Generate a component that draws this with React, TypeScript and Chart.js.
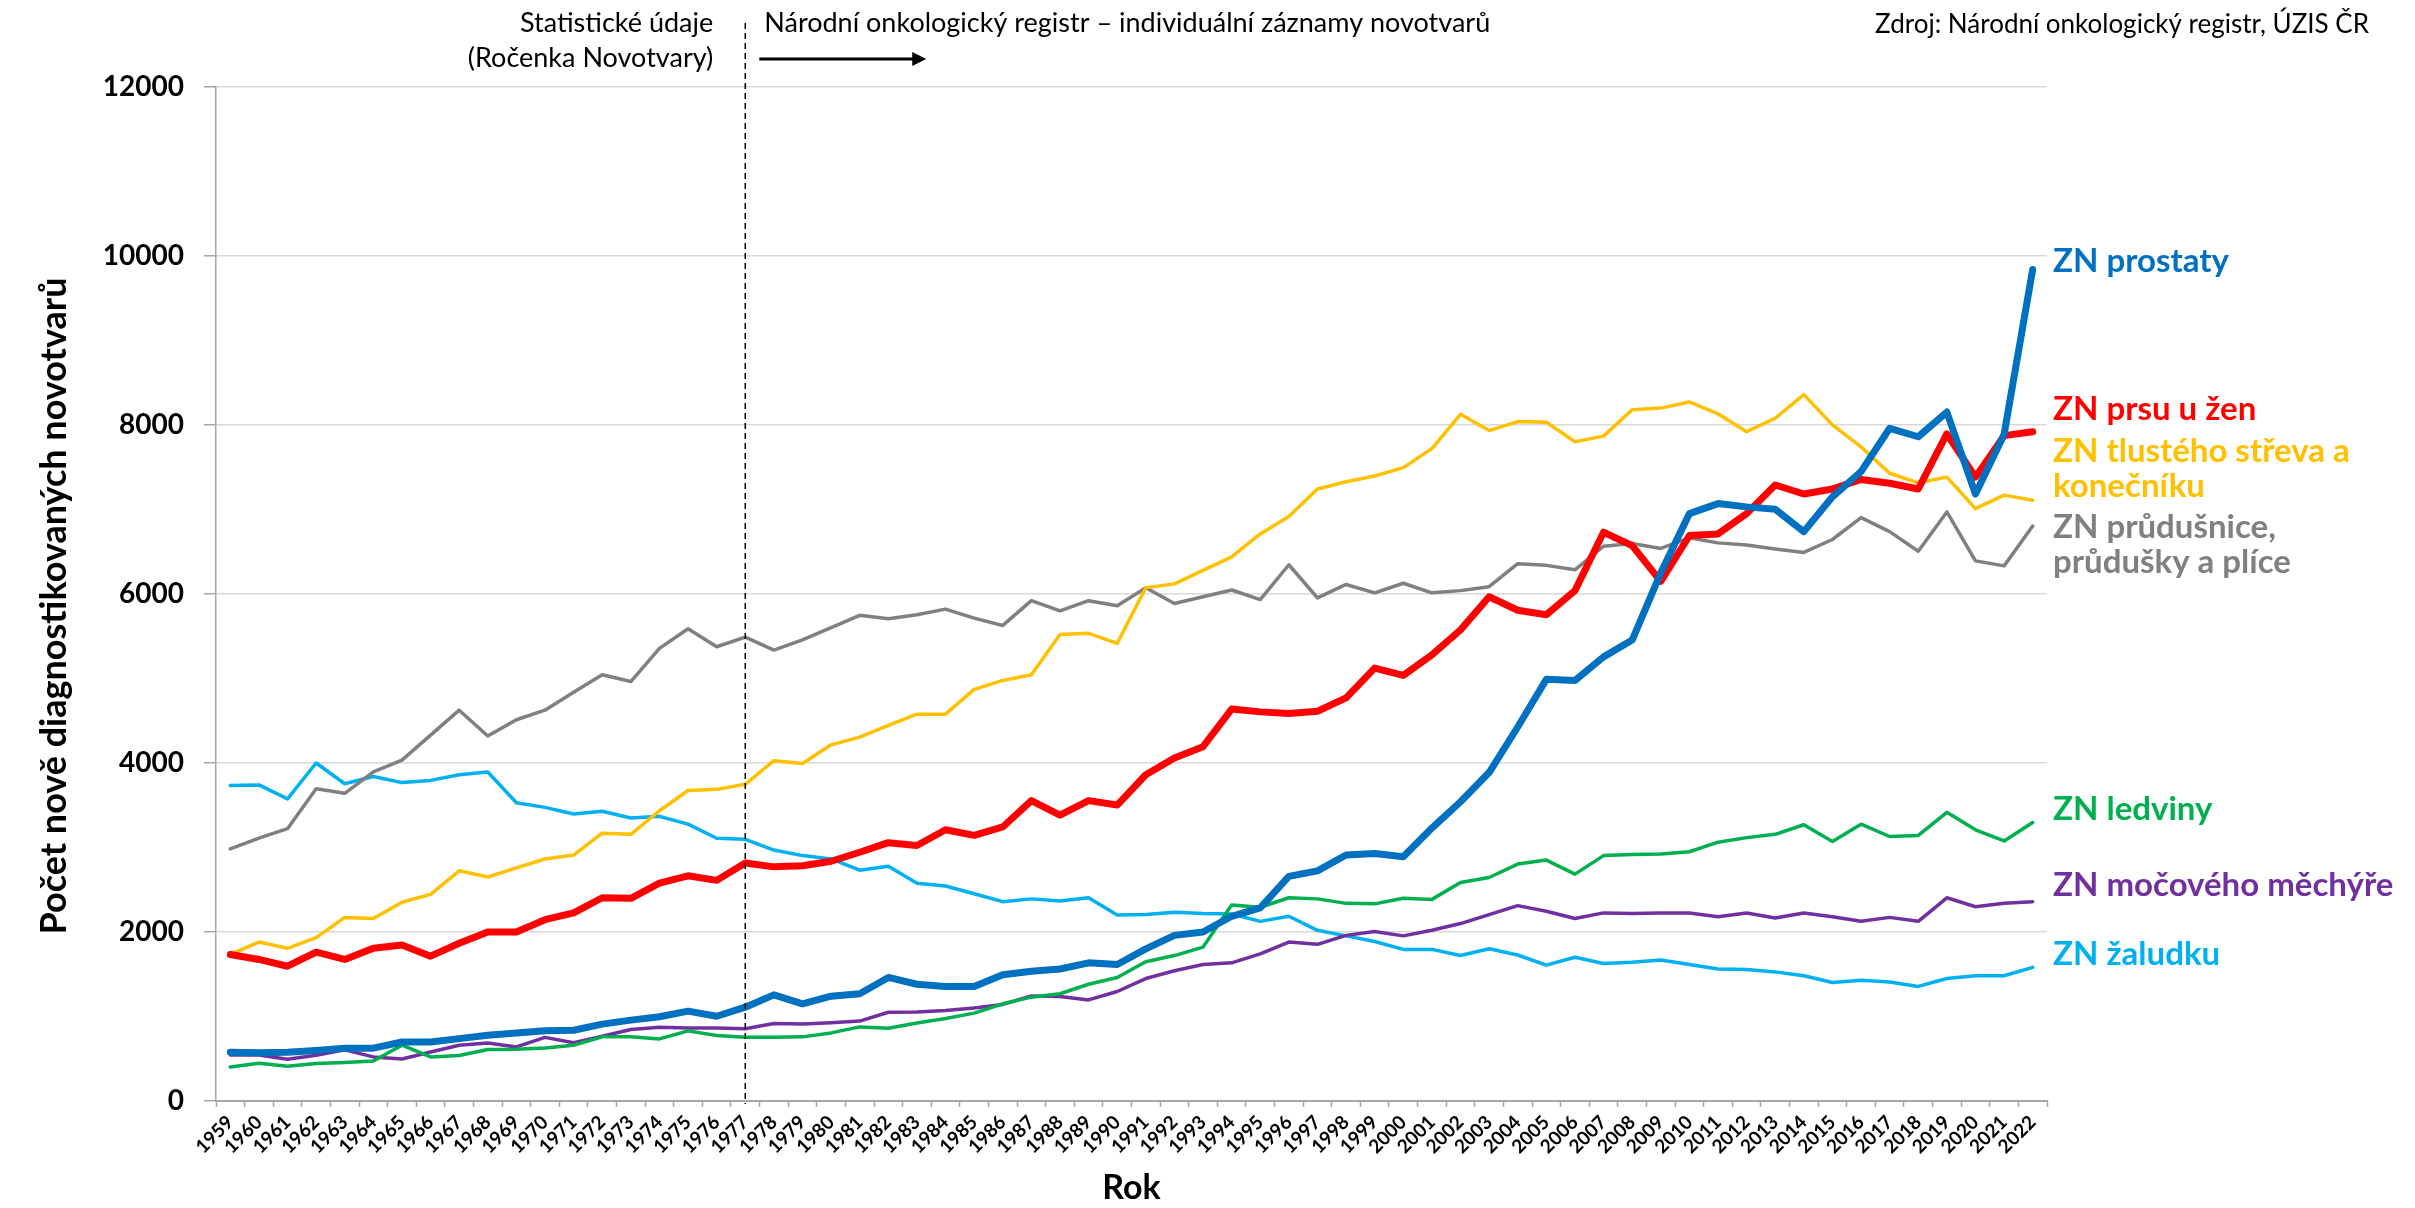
import { useEffect, useRef } from 'react';
import { Chart, registerables } from 'chart.js';

Chart.register(...registerables);

// ---------- DATA ----------
const years = [
  '1959', '1960', '1961', '1962', '1963', '1964', '1965', '1966', '1967', '1968',
  '1969', '1970', '1971', '1972', '1973', '1974', '1975', '1976', '1977', '1978',
  '1979', '1980', '1981', '1982', '1983', '1984', '1985', '1986', '1987', '1988',
  '1989', '1990', '1991', '1992', '1993', '1994', '1995', '1996', '1997', '1998',
  '1999', '2000', '2001', '2002', '2003', '2004', '2005', '2006', '2007', '2008',
  '2009', '2010', '2011', '2012', '2013', '2014', '2015', '2016', '2017', '2018',
  '2019', '2020', '2021', '2022',
];

const prostate = [
  578, 571, 578, 598, 625, 625, 698, 698, 738, 777,
  804, 831, 837, 910, 957, 997, 1063, 1003, 1110, 1256,
  1150, 1240, 1269, 1462, 1382, 1356, 1356, 1495, 1535, 1562,
  1635, 1615, 1801, 1960, 2000, 2186, 2286, 2658, 2724, 2911,
  2930, 2891, 3230, 3542, 3887, 4426, 4990, 4977, 5256, 5455,
  6250, 6951, 7070, 7031, 7004, 6738, 7150, 7449, 7961, 7861,
  8153, 7183, 7888, 9841,
];

const breast = [
  1734, 1675, 1595, 1761, 1675, 1807, 1847, 1714, 1867, 2000,
  2000, 2146, 2226, 2405, 2399, 2578, 2665, 2611, 2817, 2771,
  2784, 2837, 2944, 3057, 3023, 3210, 3143, 3243, 3555, 3382,
  3555, 3502, 3861, 4060, 4193, 4638, 4605, 4585, 4612, 4771,
  5123, 5037, 5280, 5575, 5967, 5808, 5755, 6040, 6731, 6572,
  6150, 6692, 6711, 6951, 7290, 7183, 7243, 7356, 7310, 7243,
  7894, 7383, 7874, 7921,
];

const colorectal = [
  1734, 1881, 1807, 1934, 2173, 2160, 2352, 2445, 2724, 2651,
  2758, 2864, 2911, 3170, 3156, 3435, 3675, 3688, 3748, 4027,
  3994, 4215, 4306, 4446, 4578, 4578, 4871, 4977, 5044, 5522,
  5535, 5416, 6074, 6120, 6280, 6439, 6711, 6917, 7243, 7329,
  7396, 7496, 7720, 8127, 7934, 8040, 8034, 7801, 7868, 8180,
  8200, 8273, 8133, 7921, 8080, 8359, 8001, 7741, 7429, 7316,
  7383, 7010, 7170, 7110,
];

const lung = [
  2984, 3110, 3223, 3695, 3641, 3894, 4034, 4330, 4625, 4319,
  4512, 4625, 4838, 5044, 4964, 5356, 5588, 5376, 5489, 5336,
  5456, 5602, 5748, 5708, 5755, 5821, 5715, 5628, 5921, 5801,
  5921, 5861, 6074, 5887, 5967, 6047, 5934, 6346, 5954, 6113,
  6014, 6127, 6014, 6040, 6087, 6359, 6339, 6286, 6565, 6598,
  6539, 6665, 6605, 6579, 6532, 6492, 6645, 6904, 6738, 6506,
  6971, 6392, 6333, 6805,
];

const kidney = [
  403, 447, 411, 443, 455, 474, 660, 522, 538, 609,
  613, 628, 660, 759, 759, 735, 830, 775, 755, 755,
  759, 806, 877, 860, 924, 977, 1040, 1150, 1229, 1269,
  1382, 1462, 1648, 1721, 1821, 2319, 2293, 2405, 2392, 2339,
  2333, 2399, 2386, 2585, 2645, 2804, 2851, 2685, 2904, 2917,
  2924, 2950, 3063, 3117, 3156, 3269, 3070, 3276, 3130, 3143,
  3416, 3210, 3077, 3296,
];

const bladder = [
  545, 545, 494, 541, 605, 522, 497, 580, 660, 686,
  640, 753, 690, 766, 846, 872, 863, 863, 856, 917,
  910, 926, 946, 1050, 1052, 1072, 1100, 1143, 1243, 1236,
  1196, 1296, 1449, 1542, 1615, 1635, 1741, 1881, 1854, 1960,
  2007, 1954, 2020, 2100, 2206, 2312, 2246, 2160, 2226, 2219,
  2226, 2226, 2180, 2226, 2166, 2226, 2180, 2126, 2173, 2126,
  2405, 2299, 2339, 2359,
];

const stomach = [
  3735, 3741, 3575, 4000, 3754, 3841, 3768, 3794, 3861, 3894,
  3529, 3475, 3396, 3429, 3349, 3369, 3276, 3110, 3097, 2970,
  2904, 2864, 2731, 2778, 2578, 2545, 2452, 2359, 2392, 2366,
  2405, 2200, 2206, 2233, 2219, 2213, 2126, 2186, 2020, 1954,
  1887, 1794, 1794, 1721, 1801, 1728, 1608, 1701, 1628, 1641,
  1668, 1615, 1562, 1555, 1528, 1482, 1402, 1429, 1409, 1356,
  1449, 1482, 1482, 1582,
];

const yTicks = [0, 2000, 4000, 6000, 8000, 10000, 12000];
const yTickLabels = ['0', '2000', '4000', '6000', '8000', '10000', '12000'];

const dividerYear = '1977';
const leftNote = ['Statistické údaje', '(Ročenka Novotvary)'];
const rightNote = 'Národní onkologický registr – individuální záznamy novotvarů';
const sourceNote = 'Zdroj: Národní onkologický registr, ÚZIS ČR';
const yTitle = 'Počet nově diagnostikovaných novotvarů';
const xTitle = 'Rok';

const labelProstate = ['ZN prostaty'];
const labelBreast = ['ZN prsu u žen'];
const labelColorectal = ['ZN tlustého střeva a', 'konečníku'];
const labelLung = ['ZN průdušnice,', 'průdušky a plíce'];
const labelKidney = ['ZN ledviny'];
const labelBladder = ['ZN močového měchýře'];
const labelStomach = ['ZN žaludku'];

// ---------- STYLE ----------
const C_PROSTATE = '#0070C0';
const C_BREAST = '#FF0000';
const C_COLORECTAL = '#FFC000';
const C_LUNG = '#808080';
const C_KIDNEY = '#00B050';
const C_BLADDER = '#7030A0';
const C_STOMACH = '#00B0F0';

const FONT = 'Lato, "Open Sans", sans-serif';

// label layout: [lines, color, first baseline y]
const seriesLabels: [string[], string, number][] = [
  [labelProstate, C_PROSTATE, 272],
  [labelBreast, C_BREAST, 420],
  [labelColorectal, C_COLORECTAL, 462],
  [labelLung, C_LUNG, 538],
  [labelKidney, C_KIDNEY, 820],
  [labelBladder, C_BLADDER, 896],
  [labelStomach, C_STOMACH, 965],
];

const annotationPlugin = {
  id: 'annotations',
  afterDatasetsDraw(chart: any) {
    const ctx = chart.ctx as CanvasRenderingContext2D;
    const area = chart.chartArea;
    const xs = chart.scales.x;
    const xDiv = xs.getPixelForValue(years.indexOf(dividerYear));
    ctx.save();
    // dashed divider
    ctx.strokeStyle = '#000000';
    ctx.lineWidth = 1.5;
    ctx.setLineDash([6, 4]);
    ctx.beginPath();
    ctx.moveTo(xDiv, 23);
    ctx.lineTo(xDiv, area.bottom + 3);
    ctx.stroke();
    ctx.setLineDash([]);

    // arrow
    const ay = 59;
    const ax0 = xDiv + 14;
    const ax1 = xDiv + 181;
    ctx.lineWidth = 3;
    ctx.beginPath();
    ctx.moveTo(ax0, ay);
    ctx.lineTo(ax1 - 12, ay);
    ctx.stroke();
    ctx.fillStyle = '#000000';
    ctx.beginPath();
    ctx.moveTo(ax1, ay);
    ctx.lineTo(ax1 - 14, ay - 7);
    ctx.lineTo(ax1 - 14, ay + 7);
    ctx.closePath();
    ctx.fill();

    // top notes
    ctx.font = `27px ${FONT}`;
    ctx.fillStyle = '#000000';
    ctx.textBaseline = 'alphabetic';
    ctx.textAlign = 'right';
    ctx.fillText(leftNote[0], xDiv - 32, 32);
    ctx.fillText(leftNote[1], xDiv - 32, 67);
    ctx.textAlign = 'left';
    ctx.fillText(rightNote, xDiv + 19, 32);
    ctx.font = `26px ${FONT}`;
    ctx.textAlign = 'right';
    ctx.fillText(sourceNote, 2369, 33);

    // y-axis title
    ctx.save();
    ctx.translate(54, (area.top + area.bottom) / 2 + 12);
    ctx.rotate(-Math.PI / 2);
    ctx.font = `bold 36px ${FONT}`;
    ctx.textAlign = 'center';
    ctx.textBaseline = 'middle';
    ctx.fillStyle = '#000000';
    ctx.fillText(yTitle, 0, 0);
    ctx.restore();

    // series labels
    ctx.font = `bold 33px ${FONT}`;
    ctx.textAlign = 'left';
    ctx.textBaseline = 'alphabetic';
    const lx = area.right + 6;
    for (const [lines, color, y0] of seriesLabels) {
      ctx.fillStyle = color;
      lines.forEach((t, i) => ctx.fillText(t, lx, y0 + i * 35));
    }
    ctx.restore();
  },
};

export default function App() {
  const canvasRef = useRef<HTMLCanvasElement | null>(null);

  useEffect(() => {
    document.body.style.margin = '0';
    const canvas = canvasRef.current;
    if (!canvas) return;
    let chart: Chart | null = null;

    const mk = (label: string, data: number[], color: string, width: number) => ({
      label,
      data,
      borderColor: color,
      backgroundColor: color,
      borderWidth: width,
      pointRadius: 0,
      pointHoverRadius: 0,
      tension: 0,
      fill: false,
      borderJoinStyle: 'round' as const,
      borderCapStyle: 'round' as const,
    });

    chart = new Chart(canvas, {
      type: 'line',
      data: {
        labels: years,
        datasets: [
          mk(labelProstate.join(' '), prostate, C_PROSTATE, 7),
          mk(labelBreast.join(' '), breast, C_BREAST, 7),
          mk(labelColorectal.join(' '), colorectal, C_COLORECTAL, 3.5),
          mk(labelLung.join(' '), lung, C_LUNG, 3.5),
          mk(labelKidney.join(' '), kidney, C_KIDNEY, 3.5),
          mk(labelBladder.join(' '), bladder, C_BLADDER, 3.5),
          mk(labelStomach.join(' '), stomach, C_STOMACH, 3.5),
        ],
      },
      options: {
        responsive: false,
        animation: false,
        events: [],
        layout: { padding: { left: 0, top: 87, right: 368, bottom: 0 } },
        plugins: {
          legend: { display: false },
          tooltip: { enabled: false },
          title: { display: false },
        },
        scales: {
          x: {
            type: 'category',
            offset: true,
            afterFit: (s: any) => { s.height = 107; },
            grid: {
              display: true,
              offset: true,
              drawOnChartArea: false,
              drawTicks: true,
              tickLength: 6,
              tickColor: '#A6A6A6',
              tickWidth: 1.5,
            },
            border: { display: true, color: '#A6A6A6', width: 2 },
            ticks: {
              autoSkip: false,
              minRotation: 45,
              maxRotation: 45,
              padding: 4,
              color: '#000000',
              font: { family: FONT, size: 19, weight: 'bold' },
            },
            title: {
              display: true,
              text: xTitle,
              color: '#000000',
              font: { family: FONT, size: 34, weight: 'bold' },
              padding: { top: 0, bottom: 0 },
            },
          },
          y: {
            min: 0,
            max: 12000,
            afterFit: (s: any) => { s.width = 216; },
            afterBuildTicks: (s: any) => { s.ticks = yTicks.map((v) => ({ value: v })); },
            grid: {
              color: '#D9D9D9',
              lineWidth: 1.5,
              drawTicks: true,
              tickLength: 12,
              tickColor: '#A6A6A6',
            },
            border: { display: true, color: '#A6A6A6', width: 1.5 },
            ticks: {
              padding: 20,
              color: '#000000',
              font: { family: FONT, size: 28, weight: 'bold' },
              callback: (v: any) => {
                const i = yTicks.indexOf(Number(v));
                return i >= 0 ? yTickLabels[i] : String(v);
              },
            },
            title: { display: false },
          },
        },
      },
      plugins: [annotationPlugin],
    });

    return () => {
      if (chart) chart.destroy();
    };
  }, []);

  return (
    <div style={{ position: 'fixed', left: 0, top: 0, width: 2415, height: 1208, background: '#ffffff' }}>
      <canvas ref={canvasRef} width={2415} height={1208} style={{ width: 2415, height: 1208, display: 'block' }} />
    </div>
  );
}
